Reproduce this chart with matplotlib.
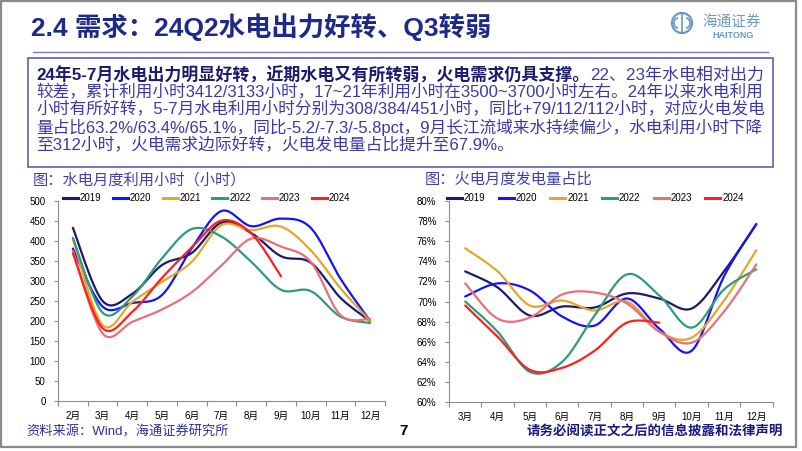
import numpy as np
import matplotlib
matplotlib.use('Agg')
import matplotlib.pyplot as plt
from matplotlib.patches import Rectangle, Circle, Arc
from matplotlib.lines import Line2D

plt.rcParams['font.family'] = ['Liberation Sans', 'Noto Sans CJK SC']

# ---------------- data ----------------
years = ['2019', '2020', '2021', '2022', '2023', '2024']
colors = ['#1b1b6b', '#1414f5', '#e3a82b', '#2f9a7c', '#e8707a', '#ff1f1f']

hydro_months = ['2月', '3月', '4月', '5月', '6月', '7月', '8月', '9月', '10月', '11月', '12月']
hydro_2019 = [433, 250, 268, 340, 370, 446, 420, 362, 346, 258, 200]
hydro_2020 = [381, 236, 245, 265, 382, 475, 437, 456, 433, 306, 200]
hydro_2021 = [405, 190, 248, 298, 348, 440, 427, 436, 377, 282, 200]
hydro_2022 = [408, 221, 261, 357, 430, 411, 348, 278, 275, 211, 195]
hydro_2023 = [375, 169, 198, 229, 272, 339, 406, 386, 348, 215, 205]
hydro_2024 = [369, 182, 223, 308, 384, 451, 419, 312]

thermal_months = ['3月', '4月', '5月', '6月', '7月', '8月', '9月', '10月', '11月', '12月']
thermal_2019 = [73.0, 71.4, 68.6, 69.5, 69.4, 70.8, 70.3, 69.3, 73.0, 77.7]
thermal_2020 = [70.5, 71.8, 71.1, 68.5, 67.6, 70.3, 67.3, 65.1, 72.5, 77.7]
thermal_2021 = [75.3, 73.0, 69.6, 70.1, 69.1, 70.0, 67.0, 66.4, 70.1, 75.1]
thermal_2022 = [70.0, 67.0, 63.0, 64.0, 68.6, 72.7, 70.6, 67.4, 71.2, 73.2]
thermal_2023 = [71.8, 68.3, 68.4, 70.7, 70.9, 69.8, 67.0, 65.9, 69.0, 73.7]
thermal_2024 = [69.6, 66.5, 63.2, 63.4, 65.1, 67.9, 67.9]

hydro_series = [hydro_2019, hydro_2020, hydro_2021, hydro_2022, hydro_2023, hydro_2024]
thermal_series = [thermal_2019, thermal_2020, thermal_2021, thermal_2022, thermal_2023, thermal_2024]

title = '2.4 需求：24Q2水电出力好转、Q3转弱'
box_bold = '24年5-7月水电出力明显好转，近期水电又有所转弱，火电需求仍具支撑。'
box_lines = [
    '22、23年水电相对出力',
    '较差，累计利用小时3412/3133小时，17~21年利用小时在3500~3700小时左右。24年以来水电利用',
    '小时有所好转，5-7月水电利用小时分别为308/384/451小时，同比+79/112/112小时，对应火电发电',
    '量占比63.2%/63.4%/65.1%，同比-5.2/-7.3/-5.8pct，9月长江流域来水持续偏少，水电利用小时下降',
    '至312小时，火电需求边际好转，火电发电量占比提升至67.9%。',
]
chart1_title = '图：水电月度利用小时（小时）'
chart2_title = '图：火电月度发电量占比'
source_text = '资料来源：Wind，海通证券研究所'
page_no = '7'
disclaimer = '请务必阅读正文之后的信息披露和法律声明'


def smooth(vals, n=25):
    y = np.asarray(vals, float)
    x = np.arange(len(y), dtype=float)
    P = np.column_stack([x, y])
    Pp = np.vstack([P[0], P, P[-1]])
    t = np.linspace(0, 1, n)[:, None]
    out = []
    for i in range(len(y) - 1):
        p0, p1, p2, p3 = Pp[i], Pp[i + 1], Pp[i + 2], Pp[i + 3]
        c1 = p1 + (p2 - p0) / 6
        c2 = p2 - (p3 - p1) / 6
        seg = (1 - t) ** 3 * p1 + 3 * (1 - t) ** 2 * t * c1 + 3 * (1 - t) * t ** 2 * c2 + t ** 3 * p2
        out.append(seg if i == 0 else seg[1:])
    return np.vstack(out)


W, H = 802, 451
fig = plt.figure(figsize=(W / 100, H / 100), dpi=100)

# overlay in pixel coordinates
bg = fig.add_axes([0, 0, 1, 1])
bg.set_xlim(0, W)
bg.set_ylim(H, 0)
bg.axis('off')

bg.add_patch(Rectangle((1, 1), 795, 446, fill=False, ec='#8a8a8a', lw=1.6))
bg.plot([33, 768], [52, 52], color='#7a7ab8', lw=1.0)
bg.add_patch(Rectangle((28, 58), 745, 109, fill=False, ec='#6c6cb4', lw=1.3))

bg.text(31, 27, title, fontsize=19, fontweight='bold', color='#1e2a8a', va='center', ha='left')

# logo
logo_c = '#6a98c6'
bg.add_patch(Circle((682, 23), 10, fill=False, ec=logo_c, lw=1.6))
bg.add_patch(Arc((678, 23), 8, 10, theta1=90, theta2=270, ec=logo_c, lw=1.2))
bg.add_patch(Arc((686, 23), 8, 10, theta1=-90, theta2=90, ec=logo_c, lw=1.2))
bg.plot([682, 682], [14, 32], color=logo_c, lw=1.2)
bg.text(732, 22, '海通证券', fontsize=10.5, color=logo_c, ha='center', va='center', style='italic')
bg.text(733, 35, 'HAITONG', fontsize=6.5, color=logo_c, ha='center', va='center', fontweight='bold')

# text box: fit each full line to the box width
x0, x_end = 36, 762
target = x_end - x0
fs0 = 12.0
line_y = [75, 92, 109.5, 127, 144]
bold_col, reg_col = '#1a1a6e', '#3a3aa6'

t_b = bg.text(x0, line_y[0], box_bold, fontsize=fs0, fontweight='bold', color=bold_col, va='center', ha='left')
t_r = bg.text(x0, line_y[0], box_lines[0], fontsize=fs0, color=reg_col, va='center', ha='left')
others = [bg.text(x0, yy, s, fontsize=fs0, color=reg_col, va='center', ha='left')
          for yy, s in zip(line_y[1:], box_lines[1:])]
fig.canvas.draw()
r = fig.canvas.get_renderer()
wb = t_b.get_window_extent(r).width
wr = t_r.get_window_extent(r).width
f1 = fs0 * target / (wb + wr + 1)
t_b.set_fontsize(f1)
t_r.set_fontsize(f1)
fsizes = [f1]
for t in others[:-1]:
    w = t.get_window_extent(r).width
    f = fs0 * target / w
    t.set_fontsize(f)
    fsizes.append(f)
others[-1].set_fontsize(np.mean(fsizes))
fig.canvas.draw()
t_r.set_x(x0 + t_b.get_window_extent(r).width + 1)

bg.text(33, 180, chart1_title, fontsize=11, color='#4040a8', va='center', ha='left')
bg.text(425, 180, chart2_title, fontsize=11, color='#4040a8', va='center', ha='left')

bg.text(26, 432, source_text, fontsize=9.5, color='#3030a0', va='center', ha='left')
bg.text(404, 431, page_no, fontsize=11, fontweight='bold', color='black', va='center', ha='center')
bg.text(783, 432, disclaimer, fontsize=9.7, fontweight='bold', color='#1a1a80', va='center', ha='right')


def style_axes(ax, ncat):
    for s in ['top', 'right']:
        ax.spines[s].set_visible(False)
    for s in ['left', 'bottom']:
        ax.spines[s].set_color('#8c8c8c')
        ax.spines[s].set_linewidth(0.8)
    ax.set_xlim(-0.5, ncat - 0.5)
    ax.set_xticks(np.arange(-0.5, ncat, 1.0))
    ax.set_xticklabels([])
    ax.tick_params(axis='x', which='major', length=3.5, color='#8c8c8c', direction='out')
    ax.set_xticks(np.arange(ncat), minor=True)
    ax.tick_params(axis='x', which='minor', length=0, labelsize=7, pad=7)
    ax.tick_params(axis='y', length=3, color='#8c8c8c', direction='out', labelsize=7, pad=6)
    ax.patch.set_alpha(0)


# left chart
ax1 = fig.add_axes([58 / W, 1 - 401 / H, (385 - 58) / W, 200 / H])
style_axes(ax1, len(hydro_months))
ax1.set_xticklabels(hydro_months, minor=True)
ax1.set_ylim(0, 500)
ax1.set_yticks(np.arange(0, 501, 50))
handles = []
for yr, c, vals in zip(years, colors, hydro_series):
    pts = smooth(vals)
    ax1.plot(pts[:, 0], pts[:, 1], color=c, lw=1.6, solid_capstyle='round')
    handles.append(Line2D([], [], color=c, lw=2.2))
ax1.legend(handles, years, ncol=6, loc='center left', bbox_to_anchor=(63 / W, 1 - 198 / H),
           bbox_transform=fig.transFigure, frameon=False, fontsize=7, handlelength=1.55,
           handletextpad=0.2, columnspacing=1.15, borderpad=0, borderaxespad=0)

# right chart
ax2 = fig.add_axes([449 / W, 1 - 402 / H, (772.5 - 449) / W, 201 / H])
style_axes(ax2, len(thermal_months))
ax2.set_xticklabels(thermal_months, minor=True)
ax2.set_ylim(60, 80)
ax2.set_yticks(np.arange(60, 81, 2))
ax2.set_yticklabels(['%d%%' % v for v in np.arange(60, 81, 2)])
for yr, c, vals in zip(years, colors, thermal_series):
    pts = smooth(vals)
    ax2.plot(pts[:, 0], pts[:, 1], color=c, lw=1.6, solid_capstyle='round')
ax2.legend(handles, years, ncol=6, loc='center left', bbox_to_anchor=(447 / W, 1 - 198 / H),
           bbox_transform=fig.transFigure, frameon=False, fontsize=7, handlelength=1.55,
           handletextpad=0.2, columnspacing=1.35, borderpad=0, borderaxespad=0)

fig.savefig('out.png', dpi=100)
